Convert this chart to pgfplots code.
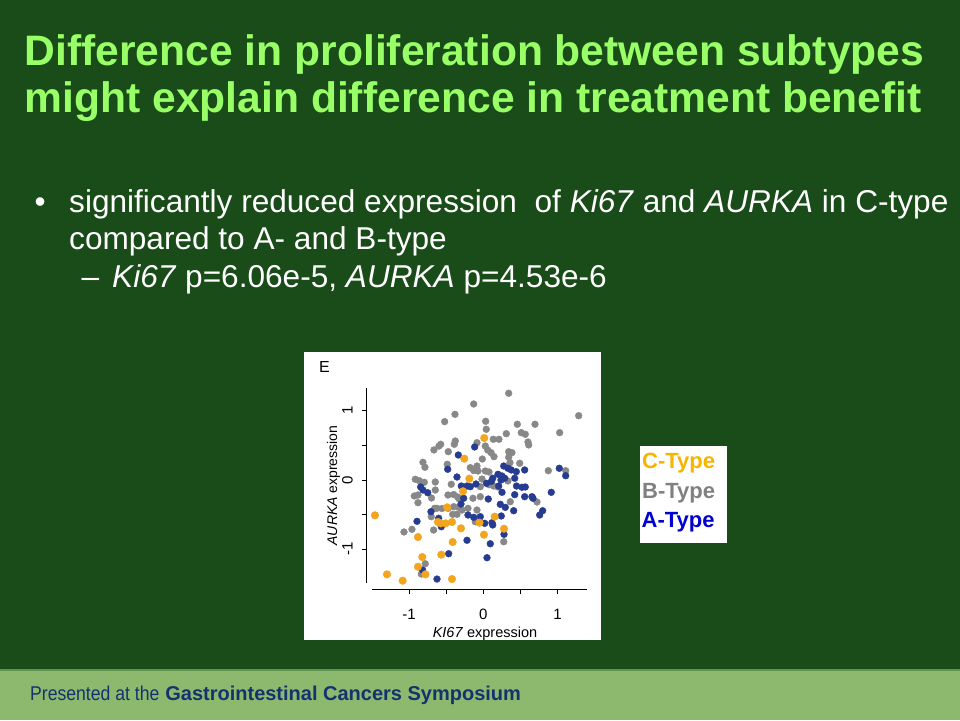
\documentclass[border=0pt]{standalone}
\usepackage{fontspec}
\setmainfont{Liberation Sans}
\usepackage{pgfplots}
\pgfplotsset{compat=1.18}

\definecolor{slidegreen}{RGB}{25,76,24}
\definecolor{titlegreen}{RGB}{153,255,102}
\definecolor{footgreen}{RGB}{140,185,110}
\definecolor{footline}{RGB}{95,150,75}
\definecolor{footblue}{RGB}{20,50,110}
\definecolor{ptgray}{RGB}{136,136,136}
\definecolor{ptblue}{RGB}{38,60,145}
\definecolor{ptorange}{RGB}{243,165,30}
\definecolor{legC}{RGB}{248,180,0}
\definecolor{legB}{RGB}{128,128,128}
\definecolor{legA}{RGB}{0,0,210}

% KI67 / AURKA expression, one table per subtype
\pgfplotstableread{
x y
-0.129 1.098
-0.381 0.949
-0.520 0.843
-0.573 0.516
-0.664 0.434
-0.377 0.564
-0.390 0.516
-0.471 0.409
-0.812 0.256
-0.785 0.184
-0.485 0.227
-0.175 0.178
-0.915 0.010
-0.861 -0.010
-0.794 -0.033
-0.646 -0.029
-0.431 -0.062
0.342 1.253
1.284 0.929
0.032 0.848
0.040 0.733
0.458 0.805
0.696 0.805
0.310 0.669
0.511 0.684
0.565 0.660
1.028 0.684
0.602 0.549
0.611 0.506
-0.085 0.539
0.135 0.588
0.211 0.588
0.027 0.491
0.059 0.434
0.104 0.395
0.144 0.337
0.342 0.409
0.386 0.395
0.342 0.328
-0.013 0.303
0.359 0.250
0.490 0.241
0.875 0.134
1.109 0.134
-0.085 0.202
-0.129 0.137
-0.071 0.130
0.027 0.130
0.332 -0.014
-0.017 0.014
-0.879 -0.217
-0.929 -0.231
-0.879 -0.328
-0.646 -0.145
-0.475 -0.217
-0.398 -0.210
-0.345 -0.246
-0.556 -0.412
-0.623 -0.409
-0.654 -0.409
-0.475 -0.409
-0.398 -0.386
-0.331 -0.395
-0.287 -0.434
-0.206 -0.409
-0.700 -0.530
-0.412 -0.496
-0.354 -0.496
-0.668 -0.723
-0.960 -0.712
-1.067 -0.751
-0.781 -1.210
-0.834 -1.358
-0.040 -0.097
0.140 -0.087
0.198 -0.101
-0.139 -0.264
-0.040 -0.241
0.363 -0.314
0.723 -0.318
-0.085 -0.434
-0.108 -0.603
0.275 -0.892
-0.596 0.491
0.077 0.116
-0.327 -0.270
-0.697 -0.260
0.077 -0.068
-0.044 -0.600
}\btype

\pgfplotstableread{
x y
-0.116 0.477
-0.336 0.361
-0.479 0.155
-0.354 0.043
-0.843 -0.101
-0.812 -0.145
-0.748 -0.184
-0.296 -0.087
-0.219 -0.087
-0.175 -0.097
-0.098 -0.058
0.043 -0.048
0.110 -0.019
0.275 0.202
0.332 0.169
0.377 0.145
0.444 0.120
0.557 0.145
1.023 0.169
1.109 0.062
0.198 0.082
0.252 0.058
0.288 0.025
0.238 0.000
0.127 0.025
0.423 0.025
0.207 -0.087
0.447 -0.087
0.521 -0.105
0.565 -0.101
0.915 -0.178
0.252 -0.178
0.423 -0.212
0.557 -0.241
0.655 -0.241
0.669 -0.264
0.067 -0.275
0.229 -0.351
0.296 -0.395
0.409 -0.444
0.799 -0.444
0.759 -0.506
0.242 -0.520
-0.040 -0.530
-0.129 -0.539
0.019 -0.626
0.117 -0.617
0.127 -0.650
0.279 -0.785
0.094 -0.921
0.050 -1.123
-0.264 -0.264
-0.300 -0.347
-0.206 -0.506
-0.704 -0.458
-0.600 -0.553
-0.565 -0.675
-0.892 -0.597
-0.219 -0.871
-0.466 -1.065
-0.816 -1.301
-0.623 -1.431
}\atype

\pgfplotstableread{
x y
0.013 0.607
-0.256 0.308
-0.188 0.019
-0.273 -0.163
-0.485 -0.395
-1.458 -0.510
0.153 -0.530
-0.051 -0.617
-0.610 -0.607
-0.573 -0.626
-0.506 -0.626
-0.421 -0.607
-0.300 -0.698
0.279 -0.704
0.009 -0.790
-0.879 -0.824
-0.412 -0.896
-0.565 -1.079
-0.821 -1.113
-0.879 -1.253
-0.778 -1.363
-1.296 -1.363
-1.085 -1.455
-0.421 -1.431
}\ctype

\begin{document}
\begin{tikzpicture}
\useasboundingbox (0pt,0pt) rectangle (960pt,720pt);
\fill[slidegreen] (0pt,0pt) rectangle (960pt,720pt);
\fill[footgreen] (0pt,0pt) rectangle (960pt,50pt);
\draw[footline, line width=1.5pt] (0pt,50pt) -- (960pt,50pt);

% title
\node[anchor=base west, inner sep=0pt, text=titlegreen,
      font=\fontsize{42.6}{50}\selectfont\bfseries] at (24.5pt,654pt)
  {Difference in proliferation between subtypes};
\node[anchor=base west, inner sep=0pt, text=titlegreen,
      font=\fontsize{42.6}{50}\selectfont\bfseries] at (24.5pt,607.3pt)
  {might explain difference in treatment benefit};

% bullets
\begin{scope}[every node/.style={anchor=base west, inner sep=0pt, text=white,
      font=\fontsize{31.6}{37}\selectfont}]
  \node at (34.5pt,507.3pt) {\textbullet};
  \node at (69pt,507.3pt) {significantly reduced expression~ of \textit{Ki67} and \textit{AURKA} in C-type};
  \node at (69pt,470pt) {compared to A- and B-type};
  \node at (81.5pt,432.7pt) {\textendash};
  \node at (112pt,432.7pt) {\textit{Ki67} p=6.06e-5, \textit{AURKA} p=4.53e-6};
\end{scope}

% footer
\node[anchor=base west, inner sep=0pt, text=footblue, font=\fontsize{20}{24}\selectfont]
  at (30pt,20pt) {\scalebox{0.88}[1]{Presented at the}\hspace{6pt}\textbf{Gastrointestinal Cancers Symposium}};

% figure panel
\fill[white] (304pt,80pt) rectangle (601pt,368pt);
\node[anchor=base west, inner sep=0pt, font=\fontsize{16}{19}\selectfont] at (319pt,347.3pt) {E};

\begin{axis}[
    at={(366.7pt,130.7pt)}, anchor=south west,
    scale only axis, width=220pt, height=201.3pt,
    xmin=-1.569, xmax=1.392, ymin=-1.579, ymax=1.329,
    axis x line*=bottom, axis y line*=left,
    separate axis lines,
    axis line style={black, line width=0.8pt},
    x axis line style={-, shorten <=5.6pt},
    y axis line style={-, shorten <=6.6pt},
    tick style={black, line width=0.8pt},
    tick align=outside, major tick length=5pt,
    xtick={-1,-0.5,0,0.5,1}, xticklabels={-1,,0,,1},
    ytick={-1,-0.5,0,0.5,1}, yticklabels={-1,,0,,1},
    ticklabel style={font=\fontsize{15}{18}\selectfont, inner sep=0pt},
    xticklabel style={anchor=base},
    xticklabel shift=24.7pt,
    yticklabel style={rotate=90, anchor=base},
    yticklabel shift=9pt,
    clip=false,
]
\addplot[only marks, mark=*, mark size=3.4pt, color=ptgray] table {\btype};
\addplot[only marks, mark=*, mark size=3.4pt, color=ptblue] table {\atype};
\addplot[only marks, mark=*, mark size=3.8pt, color=ptorange] table {\ctype};
\end{axis}

\node[anchor=base, inner sep=0pt, font=\fontsize{14.5}{17}\selectfont] at (485pt,83pt)
  {\textit{KI67} expression};
\node[anchor=base, inner sep=0pt, rotate=90, font=\fontsize{14}{17}\selectfont] at (337pt,234.5pt)
  {\textit{AURKA} expression};

% subtype key
\fill[white] (640pt,177.3pt) rectangle (727.3pt,274pt);
\begin{scope}[every node/.style={anchor=base west, inner sep=0pt,
      font=\fontsize{22}{26}\selectfont\bfseries}]
  \node[text=legC] at (642pt,251.7pt) {C-Type};
  \node[text=legB] at (642pt,221.7pt) {B-Type};
  \node[text=legA] at (641.5pt,192.7pt) {A-Type};
\end{scope}
\end{tikzpicture}
\end{document}
